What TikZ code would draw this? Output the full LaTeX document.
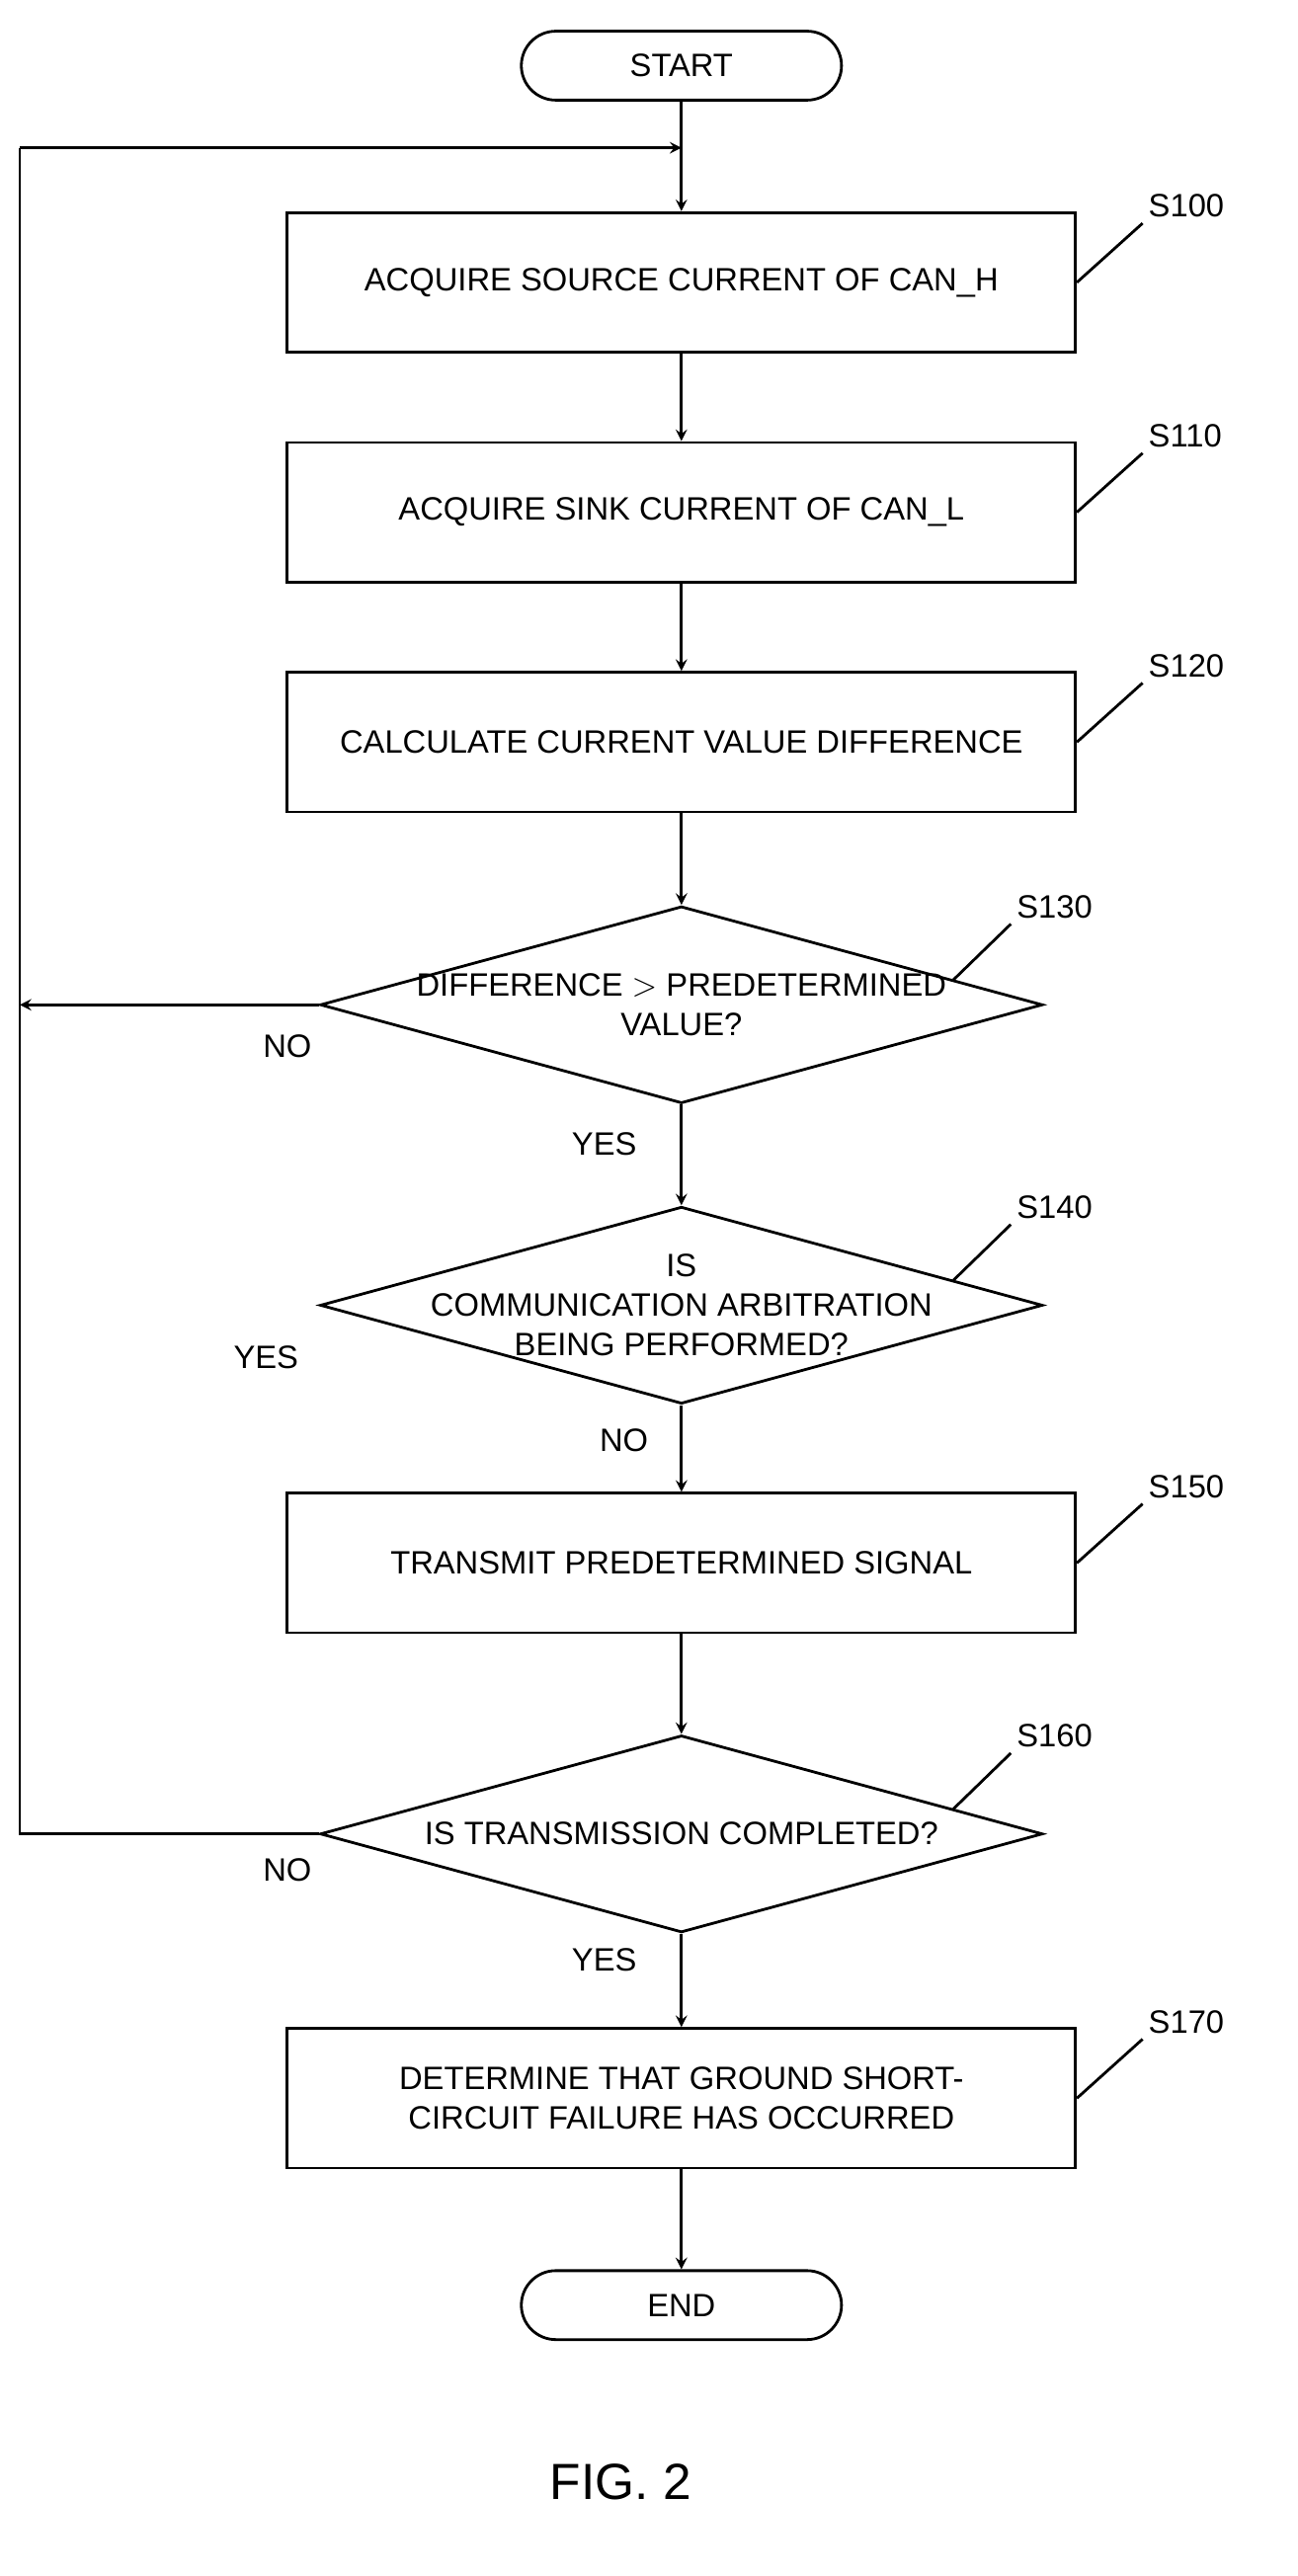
\documentclass[tikz,border=0pt]{standalone}
\usepackage{fontspec}
\setmainfont{Liberation Sans}
\usetikzlibrary{shapes.geometric, arrows, calc}
\tikzstyle{startstop} = [rectangle, rounded corners=21*0.025cm, minimum width=195*0.025cm, minimum height=42*0.025cm, text centered, draw=black, line width=1.2pt]
\tikzstyle{process} = [rectangle, minimum width=480*0.025cm, minimum height=85*0.025cm, text centered, align=center, draw=black, line width=1.2pt]
\tikzstyle{decision} = [diamond, minimum width=440*0.025cm, minimum height=120*0.025cm, inner sep=0pt, draw=black, line width=1.2pt]
\tikzstyle{arrow} = [line width=1.2pt,->,>=stealth]
\tikzstyle{leader} = [line width=1.2pt]
\tikzstyle{steplabel} = [anchor=south west, inner sep=2pt]

\begin{document}
\begin{tikzpicture}[x=0.025cm, y=-0.025cm, font=\fontsize{14}{17}\selectfont]
\useasboundingbox (0,0) rectangle (790,1569);

\node (start) [startstop] at (415,40) {START};
\coordinate (top) at (415,90);
\coordinate (back) at (12,90);

\node (s100) [process] at (415,172) {ACQUIRE SOURCE CURRENT OF CAN\_H};
\node (s110) [process] at (415,312) {ACQUIRE SINK CURRENT OF CAN\_L};
\node (s120) [process] at (415,452) {CALCULATE CURRENT VALUE DIFFERENCE};

\node (s130) [decision] at (415,612) {};
\node [align=center] at (s130) {DIFFERENCE $>$ PREDETERMINED\\VALUE?};
\coordinate (no130) at (12,612);

\node (s140) [decision] at (415,795) {};
\node [align=center] at (s140) {IS\\COMMUNICATION ARBITRATION\\BEING PERFORMED?};

\node (s150) [process] at (415,952) {TRANSMIT PREDETERMINED SIGNAL};

\node (s160) [decision] at (415,1117) {};
\node [align=center] at (s160) {IS TRANSMISSION COMPLETED?};
\coordinate (no160) at (12,1117);

\node (s170) [process] at (415,1278) {DETERMINE THAT GROUND SHORT-\\CIRCUIT FAILURE HAS OCCURRED};

\node (end) [startstop] at (415,1404) {END};

\node (fig) at (378,1512) {\fontsize{22}{26}\selectfont FIG. 2};

% step numbers
\draw [leader] (s100.east) -- ++(40,-36) node [steplabel] {S100};
\draw [leader] (s110.east) -- ++(40,-36) node [steplabel] {S110};
\draw [leader] (s120.east) -- ++(40,-36) node [steplabel] {S120};
\draw [leader] ($(s130.north east)!0.5!(s130.east)$) -- ++(35,-34) node [steplabel] {S130};
\draw [leader] ($(s140.north east)!0.5!(s140.east)$) -- ++(35,-34) node [steplabel] {S140};
\draw [leader] (s150.east) -- ++(40,-36) node [steplabel] {S150};
\draw [leader] ($(s160.north east)!0.5!(s160.east)$) -- ++(35,-34) node [steplabel] {S160};
\draw [leader] (s170.east) -- ++(40,-36) node [steplabel] {S170};

% branch texts
\node (no1) at (175,637) {NO};
\node (yes1) at (368,697) {YES};
\node (yes2) at (162,827) {YES};
\node (no2) at (380,877) {NO};
\node (no3) at (175,1139) {NO};
\node (yes3) at (368,1194) {YES};

\draw [arrow] (start) -- (s100);
\draw [arrow] (s100) -- (s110);
\draw [arrow] (s110) -- (s120);
\draw [arrow] (s120) -- (s130);
\draw [arrow] (s130) -- (s140);
\draw [arrow] (s130.west) -- (no130);
\draw [arrow] (s140) -- (s150);
\draw [arrow] (s150) -- (s160);
\draw [line width=1.2pt] (s160.west) -- (no160) -- (back);
\draw [arrow] (back) -- (top);
\draw [arrow] (s160) -- (s170);
\draw [arrow] (s170) -- (end);

\end{tikzpicture}
\end{document}
